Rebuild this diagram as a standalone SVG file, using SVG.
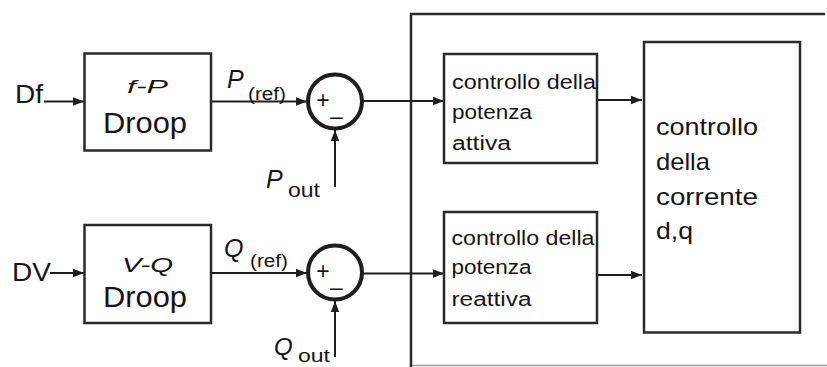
<svg xmlns="http://www.w3.org/2000/svg" width="827" height="367" viewBox="0 0 827 367">
<style>
  .box { fill: #fff; stroke: #2a2a2a; stroke-width: 2.5; }
  .sum { fill: none; stroke: #1e1e1e; stroke-width: 4; }
  .wire { fill: none; stroke: #1e1e1e; stroke-width: 2; }
  .t { font-family: "Liberation Sans", Arial, sans-serif; fill: #151515; }
  .it { font-style: italic; }
  .sg { font-family: "Liberation Sans", Arial, sans-serif; fill: #151515; font-size: 23px; text-anchor: middle; }
</style>
<defs>
  <marker id="arr" markerUnits="userSpaceOnUse" markerWidth="12" markerHeight="10" refX="11" refY="5" orient="auto">
    <path d="M0,0.8 L11,5 L0,9.2 Z" fill="#1e1e1e"/>
  </marker>
</defs>
<rect width="827" height="367" fill="#fff"/>

<g id="outer-frame">
  <path d="M411,367 V14 H825" fill="none" stroke="#2a2a2a" stroke-width="2.5"/>
  <path d="M412,365.5 H827" fill="none" stroke="#9a9a9a" stroke-width="1.5"/>
</g>

<g id="connectors">
  <path class="wire" d="M44,101.5 H84" marker-end="url(#arr)"/>
  <path class="wire" d="M211,101.5 H307" marker-end="url(#arr)"/>
  <path class="wire" d="M335,187 V130" marker-end="url(#arr)"/>
  <path class="wire" d="M363,101 H444" marker-end="url(#arr)"/>
  <path class="wire" d="M597,100 H642" marker-end="url(#arr)"/>
  <path class="wire" d="M50,273 H84" marker-end="url(#arr)"/>
  <path class="wire" d="M211,273 H307" marker-end="url(#arr)"/>
  <path class="wire" d="M335,357 V301" marker-end="url(#arr)"/>
  <path class="wire" d="M363,273.5 H444" marker-end="url(#arr)"/>
  <path class="wire" d="M597,275 H642" marker-end="url(#arr)"/>
</g>

<g id="input-df">
  <text class="t" x="15" y="103" font-size="26" textLength="28" lengthAdjust="spacingAndGlyphs">Df</text>
</g>
<g id="input-dv">
  <text class="t" x="12" y="281" font-size="26" textLength="39" lengthAdjust="spacingAndGlyphs">DV</text>
</g>

<g id="droop-fp">
  <rect class="box" x="84.5" y="53.5" width="126.5" height="97"/>
  <text class="t it" x="127" y="93" font-size="18" textLength="41" lengthAdjust="spacingAndGlyphs">f-P</text>
  <text class="t" x="103" y="132.5" font-size="29" textLength="84" lengthAdjust="spacingAndGlyphs">Droop</text>
</g>

<g id="droop-vq">
  <rect class="box" x="84.5" y="225" width="126.5" height="98"/>
  <text class="t it" x="122" y="272" font-size="20" textLength="51" lengthAdjust="spacingAndGlyphs">V-Q</text>
  <text class="t" x="103" y="306.5" font-size="29" textLength="84" lengthAdjust="spacingAndGlyphs">Droop</text>
</g>

<g id="label-pref">
  <text class="t it" x="227" y="88" font-size="25">P</text>
  <text class="t" x="248" y="100" font-size="18" textLength="38" lengthAdjust="spacingAndGlyphs">(ref)</text>
</g>
<g id="label-qref">
  <text class="t it" x="224" y="256.5" font-size="25">Q</text>
  <text class="t" x="250" y="266.5" font-size="18" textLength="38" lengthAdjust="spacingAndGlyphs">(ref)</text>
</g>
<g id="label-pout">
  <text class="t it" x="266" y="188" font-size="25">P</text>
  <text class="t" x="288" y="197" font-size="20" textLength="32" lengthAdjust="spacingAndGlyphs">out</text>
</g>
<g id="label-qout">
  <text class="t it" x="274" y="355" font-size="24">Q</text>
  <text class="t" x="298" y="362" font-size="18" textLength="32" lengthAdjust="spacingAndGlyphs">out</text>
</g>

<g id="sum-p">
  <circle class="sum" cx="335" cy="101.5" r="27"/>
  <text class="sg" x="323" y="108">+</text>
  <text class="sg" x="336.5" y="123.5">–</text>
</g>
<g id="sum-q">
  <circle class="sum" cx="335" cy="272.5" r="27"/>
  <text class="sg" x="323" y="279">+</text>
  <text class="sg" x="336.5" y="295">–</text>
</g>

<g id="ctrl-attiva">
  <rect class="box" x="444" y="54" width="153" height="109"/>
  <text class="t" x="452" y="89" font-size="19.5" textLength="144" lengthAdjust="spacingAndGlyphs">controllo della</text>
  <text class="t" x="452" y="119" font-size="19.5" textLength="80" lengthAdjust="spacingAndGlyphs">potenza</text>
  <text class="t" x="452" y="150" font-size="19.5" textLength="59" lengthAdjust="spacingAndGlyphs">attiva</text>
</g>

<g id="ctrl-reattiva">
  <rect class="box" x="444" y="212" width="153" height="111"/>
  <text class="t" x="451.5" y="244.5" font-size="19.5" textLength="143" lengthAdjust="spacingAndGlyphs">controllo della</text>
  <text class="t" x="451.5" y="273.5" font-size="19.5" textLength="80" lengthAdjust="spacingAndGlyphs">potenza</text>
  <text class="t" x="451.5" y="306" font-size="19.5" textLength="80" lengthAdjust="spacingAndGlyphs">reattiva</text>
</g>

<g id="ctrl-corrente">
  <rect class="box" x="644" y="42" width="156" height="290.5" stroke-width="4.5"/>
  <text class="t" x="656" y="135" font-size="24" textLength="102" lengthAdjust="spacingAndGlyphs">controllo</text>
  <text class="t" x="656" y="170" font-size="24" textLength="54" lengthAdjust="spacingAndGlyphs">della</text>
  <text class="t" x="656" y="205" font-size="24" textLength="102" lengthAdjust="spacingAndGlyphs">corrente</text>
  <text class="t" x="656" y="239" font-size="24" textLength="37" lengthAdjust="spacingAndGlyphs">d,q</text>
</g>
</svg>
